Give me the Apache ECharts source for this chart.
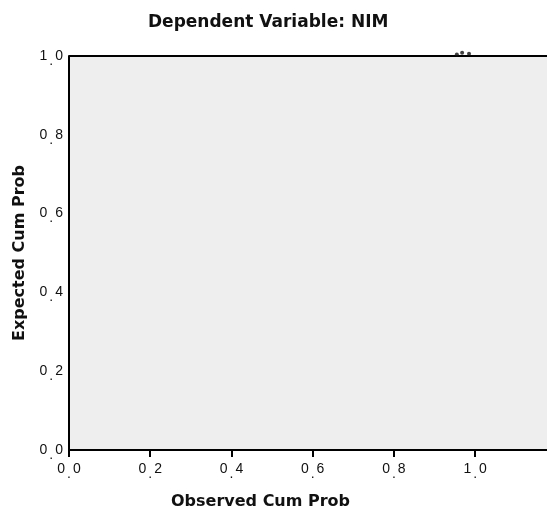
<!DOCTYPE html>
<html>
<head>
<meta charset="utf-8">
<script src="https://cdn.jsdelivr.net/npm/echarts@6/dist/echarts.min.js"></script>
<style>html,body{margin:0;padding:0;background:#fff;}#c{width:547px;height:509px;}</style>
</head>
<body>
<div id="c"></div>
<script>
const titleText = 'Dependent Variable: NIM';
const xName = 'Observed Cum Prob';
const yName = 'Expected Cum Prob';
const xTicks = [0, 0.2, 0.4, 0.6, 0.8, 1.0];
const yTicks = [0, 0.2, 0.4, 0.6, 0.8, 1.0];
const observed = [0.955, 0.968, 0.985];
const expected = [1.004, 1.008, 1.006];

const pts = observed.map((v, i) => [v, expected[i]]);
function fmt(v) {
  const s = v.toFixed(1).split('.');
  return s[0] + '{d|.}' + s[1];
}
const nameFont = {fontFamily: 'DejaVu Sans', fontWeight: 'bold', fontSize: 16, color: '#111'};
const dotRich = {d: {fontFamily: 'Liberation Sans', fontSize: 14, color: '#111', padding: [10, 2, 0, 2]}};
const chart = echarts.init(document.getElementById('c'), null, {renderer: 'canvas'});
chart.setOption({
  backgroundColor: '#ffffff',
  animation: false,
  title: [{
    text: titleText,
    left: 143,
    top: 9,
    textStyle: Object.assign({}, nameFont, {fontSize: 17})
  }, {
    text: xName,
    left: 166,
    top: 489,
    textStyle: nameFont
  }],
  grid: {left: 69, top: 56, right: 0, bottom: 59, show: true, backgroundColor: '#eeeeee', borderWidth: 0},
  xAxis: {
    type: 'value', min: 0, max: 1.177,
    axisLine: {show: true, onZero: false, lineStyle: {color: '#000', width: 2}},
    axisTick: {show: true, customValues: xTicks, length: 7, lineStyle: {color: '#000', width: 2}},
    axisLabel: {customValues: xTicks, formatter: v => fmt(v), margin: 7,
      fontFamily: 'Liberation Sans', fontSize: 14, color: '#111', rich: dotRich},
    splitLine: {show: false}
  },
  yAxis: {
    type: 'value', min: 0, max: 1.0, interval: 0.2,
    name: yName, nameLocation: 'middle', nameGap: 41,
    nameTextStyle: nameFont,
    axisLine: {show: true, lineStyle: {color: '#000', width: 2}},
    axisTick: {show: false},
    axisLabel: {formatter: v => fmt(v), margin: 6,
      fontFamily: 'Liberation Sans', fontSize: 14, color: '#111', rich: dotRich},
    splitLine: {show: false}
  },
  graphic: [{
    type: 'line', shape: {x1: 69, y1: 56, x2: 547, y2: 56}, style: {stroke: '#000', lineWidth: 2}, z: 100
  }],
  series: [{
    type: 'scatter', data: pts, clip: false, symbol: 'circle', symbolSize: 4,
    itemStyle: {color: '#111'}, z: 120
  }]
});
</script>
</body>
</html>
